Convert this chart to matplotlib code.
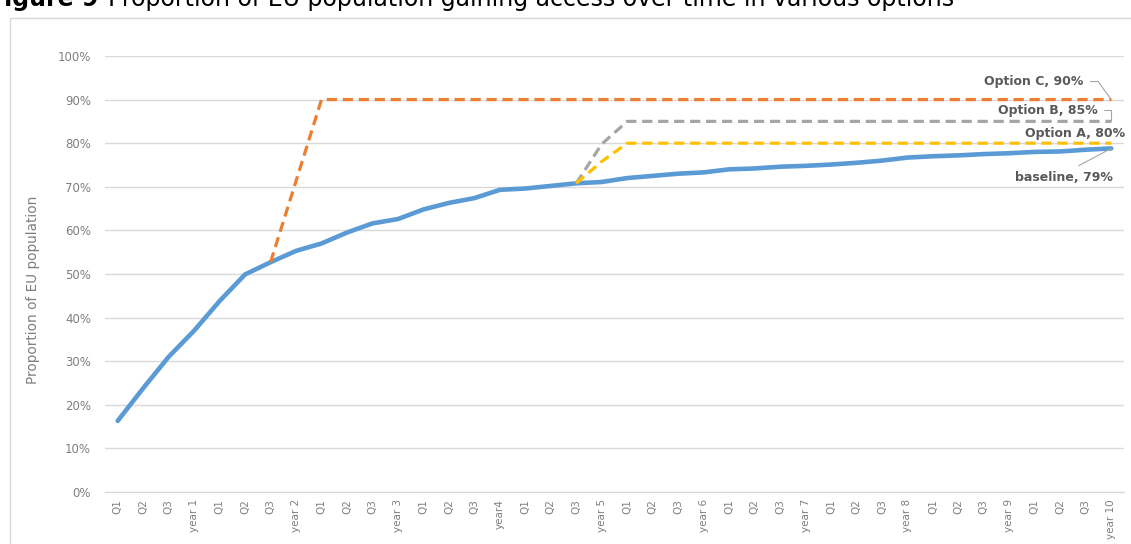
import matplotlib.pyplot as plt
from matplotlib.patches import Rectangle
from matplotlib.ticker import PercentFormatter

plt.switch_backend('Agg')

# x categories: quarters per year
quarters = []
for yr in range(1, 11):
    quarters += ['Q1', 'Q2', 'Q3', 'year4' if yr == 4 else f'year {yr}']

baseline = [16.3, 23.8, 31.0, 37.0, 43.8, 49.9, 52.7, 55.3, 57.0, 59.5,
            61.6, 62.6, 64.8, 66.3, 67.4, 69.3, 69.6, 70.2, 70.8, 71.1,
            72.0, 72.5, 73.0, 73.3, 74.0, 74.2, 74.6, 74.8, 75.1, 75.5,
            76.0, 76.7, 77.0, 77.2, 77.5, 77.7, 78.0, 78.1, 78.5, 78.8]

# options branch off the baseline
opt_c_start = 6
opt_c = [52.7, 71.3] + [90.0] * 32
opt_ab_start = 18
opt_b = [70.8, 79.8] + [85.0] * 20
opt_a = [70.8, 75.8] + [80.0] * 20

blue = '#5b9bd5'
orange = '#ed7d31'
grey = '#a5a5a5'
yellow = '#ffc000'
label_col = '#595959'
tick_col = '#7f7f7f'

W, H = 1131, 544
fig = plt.figure(figsize=(W / 100, H / 100), dpi=100)
ax = fig.add_axes([0.0928, 0.0956, 0.901, 0.8015])

x = list(range(len(quarters)))
ax.plot(x, baseline, color=blue, lw=3.3, solid_capstyle='round', zorder=3)
ax.plot(x[opt_c_start:], opt_c, color=orange, lw=2.3, dashes=(3.2, 1.8), zorder=4)
ax.plot(x[opt_ab_start:], opt_b, color=grey, lw=2.3, dashes=(3.2, 1.8), zorder=4)
ax.plot(x[opt_ab_start:], opt_a, color=yellow, lw=2.3, dashes=(3.2, 1.8), zorder=4)

ax.set_xlim(-0.5, len(quarters) - 0.5)
ax.set_ylim(0, 100)
ax.set_yticks(range(0, 101, 10))
ax.yaxis.set_major_formatter(PercentFormatter(decimals=0))
ax.set_xticks(x)
ax.set_xticklabels(quarters, rotation=90, fontsize=7.5, color=tick_col)
ax.tick_params(axis='y', labelsize=8.5, colors=tick_col, length=0, pad=10)
ax.tick_params(axis='x', length=0, pad=5)
ax.grid(axis='y', color='#d9d9d9', lw=1)
ax.set_axisbelow(True)
for side in ['top', 'right', 'left']:
    ax.spines[side].set_visible(False)
ax.spines['bottom'].set_color('#d9d9d9')

last = len(quarters) - 1
anno = dict(fontsize=9, fontweight='bold', color=label_col,
            textcoords='offset points', va='center', ha='right')
ax.annotate('Option C, 90%', xy=(last, opt_c[-1]), xytext=(-20, 13),
            arrowprops=dict(arrowstyle='-', color=grey, lw=0.8, shrinkA=3, shrinkB=0,
                            connectionstyle='angle,angleA=0,angleB=-54,rad=0'), **anno)
ax.annotate('Option B, 85%', xy=(last, opt_b[-1]), xytext=(-10, 8),
            arrowprops=dict(arrowstyle='-', color=grey, lw=0.8, shrinkA=3, shrinkB=0,
                            connectionstyle='angle,angleA=0,angleB=90,rad=0'), **anno)
ax.annotate('Option A, 80%', xy=(last, opt_a[-1]), xytext=(10, 7), **anno)
ax.annotate('baseline, 79%', xy=(last, baseline[-1]), xytext=(1, -21),
            arrowprops=dict(arrowstyle='-', color=grey, lw=0.8, shrinkA=4, shrinkB=0,
                            relpos=(0.55, 1.0)), **anno)

fig.text(33 / W, 1 - 290 / H, 'Proportion of EU population', rotation=90, fontsize=9.8,
         color=tick_col, ha='center', va='center')

# chart border
fig.patches.append(Rectangle((10 / W, -0.01), 1.0, 1 - 18 / H + 0.01,
                             transform=fig.transFigure, fill=False,
                             edgecolor='#d9d9d9', lw=1))

# title, clipped at the top like the source
t1 = fig.text(98 / W, 1 - 6 / H, 'Figure 9', fontsize=17, fontweight='bold',
              va='baseline', ha='right')
fig.text(108 / W, 1 - 6 / H,
         'Proportion of EU population gaining access over time in various options',
         fontsize=17, va='baseline', ha='left')

fig.savefig('out.png', dpi=100)
